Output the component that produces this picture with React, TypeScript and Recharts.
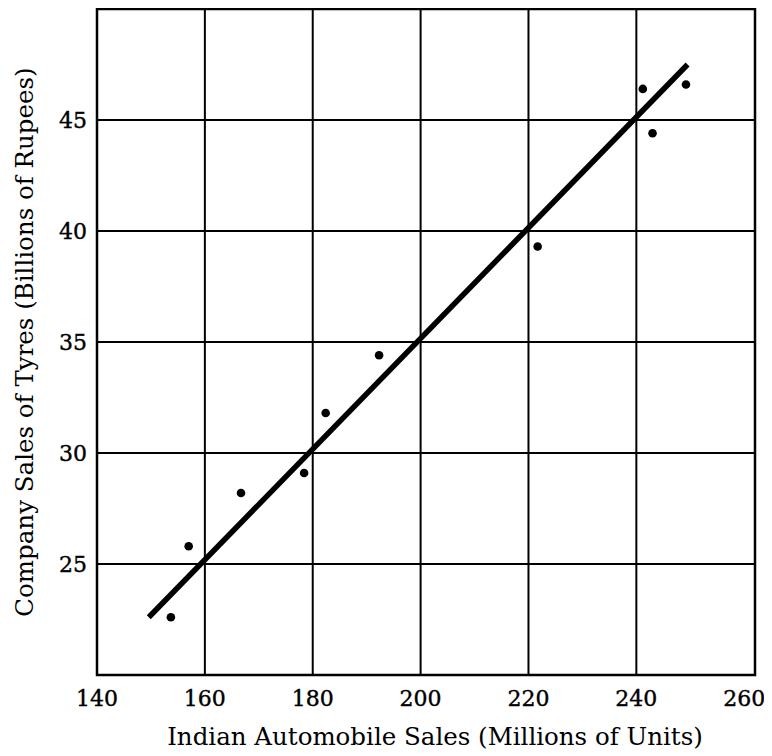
import { ScatterChart, Scatter, XAxis, YAxis, CartesianGrid, ReferenceArea, Label } from 'recharts';

const autoSales = [153.7, 157.0, 166.7, 178.4, 182.4, 192.3, 221.7, 241.2, 243.0, 249.2];
const tyreSales = [22.6, 25.8, 28.2, 29.1, 31.8, 34.4, 39.3, 46.4, 44.4, 46.6];

// fitted regression line end points
const fitX = [149.6, 249.5];
const fitY = [22.6, 47.5];

const xTicks = [140, 160, 180, 200, 220, 240, 260];
const yTicks = [25, 30, 35, 40, 45];
const xDomain = [140, 262];
const yDomain = [20, 50];

const points = autoSales.map((x, i) => ({ x, y: tyreSales[i] }));
const fitLine = fitX.map((x, i) => ({ x, y: fitY[i] }));

const font = "'DejaVu Serif', 'Liberation Serif', serif";
const tickFont = 22;
const titleFont = 24.5;

const Dot = (p: any) => <circle cx={p.cx} cy={p.cy} r={4.3} fill='#000' />;

const XTick = (p: any) => (
  <text x={p.x} y={p.y} dy='0.71em' textAnchor='middle' fontSize={tickFont} fontFamily={font} fill='#000' stroke='#000' strokeWidth={0.4}>
    {p.payload.value}
  </text>
);

const YTick = (p: any) => (
  <text x={p.x} y={p.y} dy='0.36em' textAnchor='end' fontSize={tickFont} fontFamily={font} fill='#000' stroke='#000' strokeWidth={0.4}>
    {p.payload.value}
  </text>
);

export default function App() {
  return (
    <ScatterChart
      width={764}
      height={748}
      margin={{ top: 1, right: 17, bottom: 0, left: 0 }}
      style={{ fontFamily: font }}
    >
      <CartesianGrid
        stroke='#000'
        strokeWidth={2}
        verticalValues={xTicks.slice(1, -1)}
        horizontalValues={yTicks}
      />
      <XAxis
        type='number'
        dataKey='x'
        domain={xDomain}
        ticks={xTicks}
        interval={0}
        height={81}
        axisLine={false}
        tickLine={false}
        tickSize={0}
        tickMargin={15}
        tick={XTick}
      >
        <Label
          content={(props: any) => {
            const { x, y, width } = props.viewBox;
            return (
              <text x={x + width / 2 + 9} y={y + 70} textAnchor='middle' fontSize={titleFont} fontFamily={font} fill='#000'>
                Indian Automobile Sales (Millions of Units)
              </text>
            );
          }}
        />
      </XAxis>
      <YAxis
        type='number'
        dataKey='y'
        domain={yDomain}
        ticks={yTicks}
        interval={0}
        width={89}
        axisLine={false}
        tickLine={false}
        tickSize={0}
        tickMargin={10}
        tick={YTick}
      >
        <Label
          content={(props: any) => {
            const { y, height } = props.viewBox;
            const cy = y + height / 2;
            return (
              <text x={25} y={cy} transform={`rotate(-90 25 ${cy})`} textAnchor='middle' fontSize={titleFont} fontFamily={font} fill='#000'>
                Company Sales of Tyres (Billions of Rupees)
              </text>
            );
          }}
        />
      </YAxis>
      <ReferenceArea
        x1={xDomain[0]}
        x2={xDomain[1]}
        y1={yDomain[0]}
        y2={yDomain[1]}
        fill='none'
        stroke='#000'
        strokeWidth={2.5}
        ifOverflow='visible'
      />
      <Scatter
        data={fitLine}
        line={{ stroke: '#000', strokeWidth: 5.5 }}
        shape={() => <g />}
        isAnimationActive={false}
      />
      <Scatter data={points} shape={Dot} isAnimationActive={false} />
    </ScatterChart>
  );
}
